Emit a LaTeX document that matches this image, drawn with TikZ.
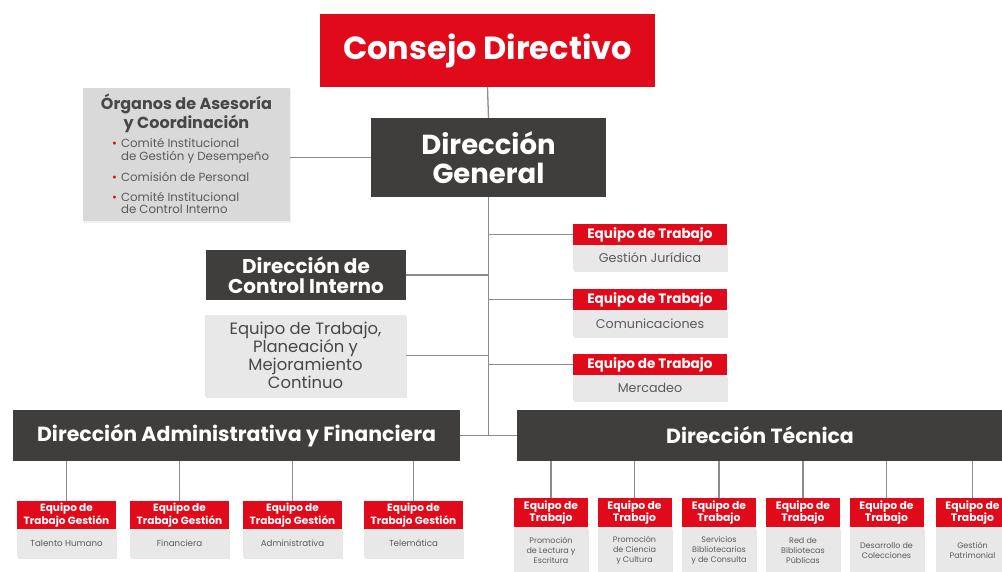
\documentclass[tikz,border=0pt]{standalone}
\usepackage{fontspec}
\setmainfont{Poppins}
\usepackage{xcolor}
\usepackage{tikz}
\usetikzlibrary{shadows}

\definecolor{ccred}{HTML}{E10A1A}
\definecolor{ccdark}{HTML}{403E3D}
\definecolor{ccpanel}{HTML}{DAD9DA}
\definecolor{cclight}{HTML}{E8E8E8}
\definecolor{ccline}{HTML}{8C8C8C}
\definecolor{cctext}{HTML}{474747}
\definecolor{ccsoft}{HTML}{5A5A5A}

\tikzset{
  darkbox/.style={fill=ccdark, text=white, inner sep=0pt, align=center, font=\bfseries\fontsize{20.5}{19}\selectfont},
  teamhead/.style={fill=ccred, text=white, inner sep=0pt, align=center},
  teambody/.style={fill=cclight, text=ccsoft, inner sep=0pt, align=center, anchor=north,
    drop shadow={opacity=0.18, shadow xshift=1pt, shadow yshift=-2pt}},
  link/.style={draw=ccline, line width=1.3pt},
}

\begin{document}
\begin{tikzpicture}[x=1pt, y=-1pt]
\useasboundingbox (0,0) rectangle (1002,571);

\node[fill=ccred, text=white, minimum width=335, minimum height=73, inner sep=0pt,
  font=\bfseries\fontsize{32}{34}\selectfont] (consejo) at (487.5,50.5) {Consejo Directivo};
\node[darkbox, minimum width=235, minimum height=79, font=\bfseries\fontsize{27.5}{29}\selectfont] (general) at (488.5,157.5) {Dirección\\General};

\node[fill=ccpanel, minimum width=207, minimum height=133, inner sep=0pt,
  drop shadow={opacity=0.12, shadow xshift=1pt, shadow yshift=-2pt}] (organos) at (186.5,154.5) {};
\node[text=cctext, align=center, inner sep=0pt, font=\bfseries\fontsize{16}{16}\selectfont] (organostit) at (186.5,113) {Órganos de Asesoría\\y Coordinación};
\node[text=ccsoft, anchor=north west, inner sep=0pt, font=\fontsize{11.8}{12}\selectfont] (organoslist) at (112,138.5) {%
  \begin{tabular}{@{}l@{\hspace{4pt}}l@{}}
  \textcolor{ccred}{\textbullet} & Comité Institucional\\
  & de Gestión y Desempeño\\[7.5pt]
  \textcolor{ccred}{\textbullet} & Comisión de Personal\\[7.5pt]
  \textcolor{ccred}{\textbullet} & Comité Institucional\\
  & de Control Interno
  \end{tabular}};

\node[darkbox, minimum width=200, minimum height=50, font=\bfseries\fontsize{20}{20}\selectfont] (control) at (306,275) {Dirección de\\Control Interno};
\node[fill=cclight, text=cctext, minimum width=201, minimum height=81, inner sep=0pt, align=center,
  font=\fontsize{16.4}{18}\selectfont, drop shadow={opacity=0.18, shadow xshift=1pt, shadow yshift=-2pt}] (planea) at (305.5,355.5) {Equipo de Trabajo,\\Planeación y\\Mejoramiento\\Continuo};

\node[teamhead, minimum width=154, minimum height=21, font=\bfseries\fontsize{13.6}{14}\selectfont] (juridh) at (650,234.5) {Equipo de Trabajo};
\node[teambody, minimum width=154, minimum height=25, font=\fontsize{12.7}{13}\selectfont] (juridb) at (juridh.south) {Gestión Jurídica};
\node[teamhead, minimum width=154, minimum height=21, font=\bfseries\fontsize{13.6}{14}\selectfont] (comunh) at (650,299.5) {Equipo de Trabajo};
\node[teambody, minimum width=154, minimum height=26, font=\fontsize{12.7}{13}\selectfont] (comunb) at (comunh.south) {Comunicaciones};
\node[teamhead, minimum width=154, minimum height=21, font=\bfseries\fontsize{13.6}{14}\selectfont] (mercah) at (650,364.5) {Equipo de Trabajo};
\node[teambody, minimum width=154, minimum height=25, font=\fontsize{12.7}{13}\selectfont] (mercab) at (mercah.south) {Mercadeo};

\node[darkbox, minimum width=447, minimum height=51] (admin) at (236.5,435.5) {Dirección Administrativa y Financiera};
\node[darkbox, minimum width=486, minimum height=51] (tecnica) at (760,435.5) {Dirección Técnica};

\node[teamhead, minimum width=99, minimum height=28, font=\bfseries\fontsize{10.5}{9.5}\selectfont] (talentoh) at (66.5,515) {Equipo de\\Trabajo Gestión};
\node[teambody, minimum width=99, minimum height=28, font=\fontsize{8.7}{9}\selectfont] (talentob) at (talentoh.south) {Talento Humano};
\node[teamhead, minimum width=99, minimum height=28, font=\bfseries\fontsize{10.5}{9.5}\selectfont] (financh) at (179.5,515) {Equipo de\\Trabajo Gestión};
\node[teambody, minimum width=99, minimum height=28, font=\fontsize{8.7}{9}\selectfont] (financb) at (financh.south) {Financiera};
\node[teamhead, minimum width=99, minimum height=28, font=\bfseries\fontsize{10.5}{9.5}\selectfont] (adminh) at (292.5,515) {Equipo de\\Trabajo Gestión};
\node[teambody, minimum width=99, minimum height=28, font=\fontsize{8.7}{9}\selectfont] (adminb) at (adminh.south) {Administrativa};
\node[teamhead, minimum width=99, minimum height=28, font=\bfseries\fontsize{10.5}{9.5}\selectfont] (telemh) at (413.5,515) {Equipo de\\Trabajo Gestión};
\node[teambody, minimum width=99, minimum height=28, font=\fontsize{8.7}{9}\selectfont] (telemb) at (telemh.south) {Telemática};

\node[teamhead, minimum width=74, minimum height=29, font=\bfseries\fontsize{10.8}{9.5}\selectfont] (lecturah) at (551,512.5) {Equipo de\\Trabajo};
\node[teambody, minimum width=74, minimum height=46, font=\fontsize{8}{9.8}\selectfont] (lecturab) at (lecturah.south) {Promoción\\de Lectura y\\Escritura};
\node[teamhead, minimum width=74, minimum height=29, font=\bfseries\fontsize{10.8}{9.5}\selectfont] (cienciah) at (634.5,512.5) {Equipo de\\Trabajo};
\node[teambody, minimum width=74, minimum height=46, font=\fontsize{8}{9.8}\selectfont] (cienciab) at (cienciah.south) {Promoción\\de Ciencia\\y Cultura};
\node[teamhead, minimum width=74, minimum height=29, font=\bfseries\fontsize{10.8}{9.5}\selectfont] (serviciosh) at (719,512.5) {Equipo de\\Trabajo};
\node[teambody, minimum width=74, minimum height=46, font=\fontsize{8}{9.8}\selectfont] (serviciosb) at (serviciosh.south) {Servicios\\Bibliotecarios\\y de Consulta};
\node[teamhead, minimum width=74, minimum height=29, font=\bfseries\fontsize{10.8}{9.5}\selectfont] (redh) at (803,512.5) {Equipo de\\Trabajo};
\node[teambody, minimum width=74, minimum height=46, font=\fontsize{8}{9.8}\selectfont] (redb) at (redh.south) {Red de\\Bibliotecas\\Públicas};
\node[teamhead, minimum width=74, minimum height=29, font=\bfseries\fontsize{10.8}{9.5}\selectfont] (coleccionh) at (886.5,512.5) {Equipo de\\Trabajo};
\node[teambody, minimum width=74, minimum height=46, font=\fontsize{8}{9.8}\selectfont] (coleccionb) at (coleccionh.south) {Desarrollo de\\Colecciones};
\node[teamhead, minimum width=74, minimum height=29, font=\bfseries\fontsize{10.8}{9.5}\selectfont] (patrimonioh) at (972.5,512.5) {Equipo de\\Trabajo};
\node[teambody, minimum width=74, minimum height=46, font=\fontsize{8}{9.8}\selectfont] (patrimoniob) at (patrimonioh.south) {Gestión\\Patrimonial};

\draw[link] (consejo.south) -- (general.north);
\draw[link] (general.south) -- (general.south |- admin.east);
\draw[link] (admin.east) -- (tecnica.west);
\draw[link] (general.west) -- (general.west -| organos.east);
\draw[link] (juridh.west) -- (juridh.west -| general.south);
\draw[link] (comunh.west) -- (comunh.west -| general.south);
\draw[link] (mercah.west) -- (mercah.west -| general.south);
\draw[link] (control.east) -- (control.east -| general.south);
\draw[link] (planea.east) -- (planea.east -| general.south);
\draw[link] (admin.south -| talentoh.north) -- (talentoh.north);
\draw[link] (admin.south -| financh.north) -- (financh.north);
\draw[link] (admin.south -| adminh.north) -- (adminh.north);
\draw[link] (admin.south -| telemh.north) -- (telemh.north);
\draw[link] (tecnica.south -| lecturah.north) -- (lecturah.north);
\draw[link] (tecnica.south -| cienciah.north) -- (cienciah.north);
\draw[link] (tecnica.south -| serviciosh.north) -- (serviciosh.north);
\draw[link] (tecnica.south -| redh.north) -- (redh.north);
\draw[link] (tecnica.south -| coleccionh.north) -- (coleccionh.north);
\draw[link] (tecnica.south -| patrimonioh.north) -- (patrimonioh.north);
\end{tikzpicture}
\end{document}
